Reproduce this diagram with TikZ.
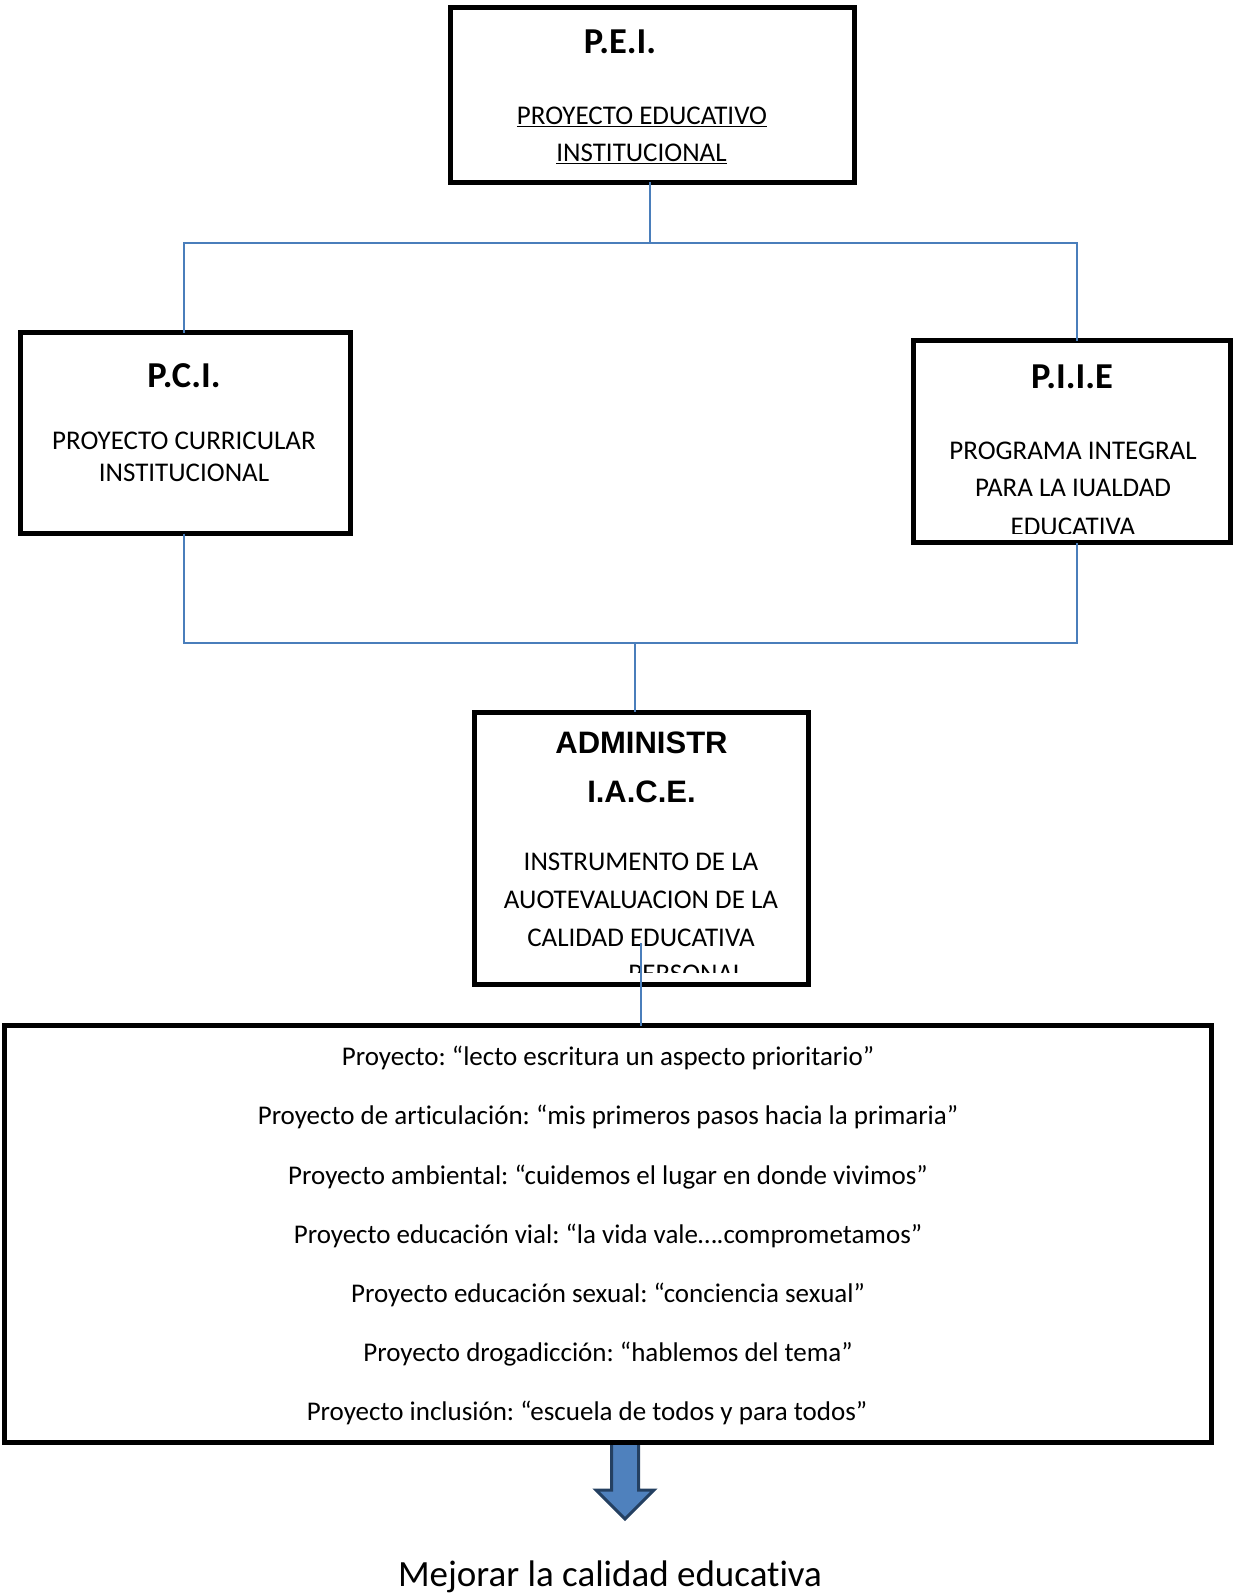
\documentclass[tikz,border=0pt]{standalone}
\usepackage{fontspec}
\setmainfont{Carlito}[Ligatures=NoCommon]
\newfontfamily\arialfont{Liberation Sans}
\definecolor{linkBlue}{RGB}{74,126,187}
\definecolor{arrowFill}{RGB}{79,129,189}
\definecolor{arrowLine}{RGB}{36,64,97}
\frenchspacing
\begin{document}
\begin{tikzpicture}[x=1pt, y=-1pt, boxStyle/.style={rectangle, draw, line width=5, inner sep=0, outer sep=0}, textStyle/.style={anchor=base, inner sep=0, font=\fontsize{27}{32}\selectfont}, titleStyle/.style={anchor=base, inner sep=0, font=\fontsize{36.5}{44}\selectfont\bfseries}, adminStyle/.style={anchor=base, inner sep=0, font=\fontsize{31}{36}\selectfont\arialfont\bfseries}, linkStyle/.style={draw=linkBlue, line width=2}]
                    \useasboundingbox (0,0) rectangle (1233,1594);

                    \filldraw[fill=arrowFill, draw=arrowLine, line width=3, line join=miter] (611.5,1442) -- (611.5,1490) -- (596,1490) -- (625,1519) -- (654,1490) -- (638.5,1490) -- (638.5,1442);

                    \node[boxStyle, minimum width=404,  minimum height=175] (pei_box)  at ( 652,    95) {};
                    \node[boxStyle, minimum width=330,  minimum height=201] (pci_box)  at ( 185.5, 433) {};
                    \node[boxStyle, minimum width=317.5,minimum height=202] (piie_box) at (1071.75,441.5) {};
                    \node[boxStyle, minimum width=333.5,minimum height=272.5] (iace_box) at ( 641.25,848.25) {};
                    \node[boxStyle, minimum width=1207, minimum height=417] (big_box)  at ( 608,  1234) {};

                    \node[titleStyle] (pei_T)  at ( 620,  53.5) {P.E.I.};
                    \node[textStyle]  (pei_0)  at ( 642, 125) {\underline{PROYECTO EDUCATIVO}};
                    \node[textStyle]  (pei_1)  at ( 641.5, 161.7) {\underline{INSTITUCIONAL}};

                    \node[titleStyle] (pci_T)  at ( 184, 387) {P.C.I.};
                    \node[textStyle]  (pci_0)  at ( 184, 449) {PROYECTO CURRICULAR};
                    \node[textStyle]  (pci_1)  at ( 184, 481.5) {INSTITUCIONAL};

                    \node[titleStyle] (piie_T) at (1072, 388) {P.I.I.E};
                    \node[textStyle]  (piie_0) at (1073, 459) {PROGRAMA INTEGRAL};
                    \node[textStyle]  (piie_1) at (1073, 496.5) {PARA LA IUALDAD};
                    \begin{scope}
                    \clip (913,500) rectangle (1230,533);
                    \node[textStyle]  (piie_2) at (1073, 535) {EDUCATIVA};
                    \end{scope}

                    \node[adminStyle] (iace_A) at ( 641.5, 753) {ADMINISTR};
                    \node[adminStyle] (iace_T) at ( 641.5, 802) {I.A.C.E.};
                    \node[textStyle]  (iace_0) at ( 641, 870.7) {INSTRUMENTO DE LA};
                    \node[textStyle]  (iace_1) at ( 641, 908.3) {AUOTEVALUACION DE LA};
                    \node[textStyle]  (iace_2) at ( 641, 946) {CALIDAD EDUCATIVA};
                    \begin{scope}
                    \clip (477,950) rectangle (806,972);
                    \node[textStyle]  (iace_3) at ( 686.5, 982.4) {PERSONAL};
                    \end{scope}

                    \node[textStyle] (proj_0) at (608, 1065) {Proyecto: “lecto escritura un aspecto prioritario”};
                    \node[textStyle] (proj_1) at (608, 1124) {Proyecto de articulación: “mis primeros pasos hacia la primaria”};
                    \node[textStyle] (proj_2) at (608, 1184) {Proyecto ambiental: “cuidemos el lugar en donde vivimos”};
                    \node[textStyle] (proj_3) at (608, 1243) {Proyecto educación vial: “la vida vale….comprometamos”};
                    \node[textStyle] (proj_4) at (608, 1302) {Proyecto educación sexual: “conciencia sexual”};
                    \node[textStyle] (proj_5) at (608, 1361) {Proyecto drogadicción: “hablemos del tema”};
                    \node[textStyle] (proj_6) at (587, 1420) {Proyecto inclusión: “escuela de todos y para todos”};

                    \node[anchor=base, inner sep=0, font=\fontsize{37}{44}\selectfont] (goal) at (610, 1586) {Mejorar la calidad educativa};

                    \coordinate (lowBar)   at (635, 643);
                    \coordinate (iaceLink) at (641, 943);
                    \draw[linkStyle] ([xshift=-2]pei_box.south) -- ++(0,60.5) coordinate (topBar);
                    \draw[linkStyle] ([xshift=-2]pci_box.north) |- (topBar) -| ([xshift=5]piie_box.north);
                    \draw[linkStyle] ([xshift=-2]pci_box.south) |- (lowBar) -| ([xshift=5]piie_box.south);
                    \draw[linkStyle] (lowBar) -- (lowBar |- iace_box.north);
                    \draw[linkStyle] (iaceLink) -- (iaceLink |- big_box.north);
                \end{tikzpicture}
\end{document}
